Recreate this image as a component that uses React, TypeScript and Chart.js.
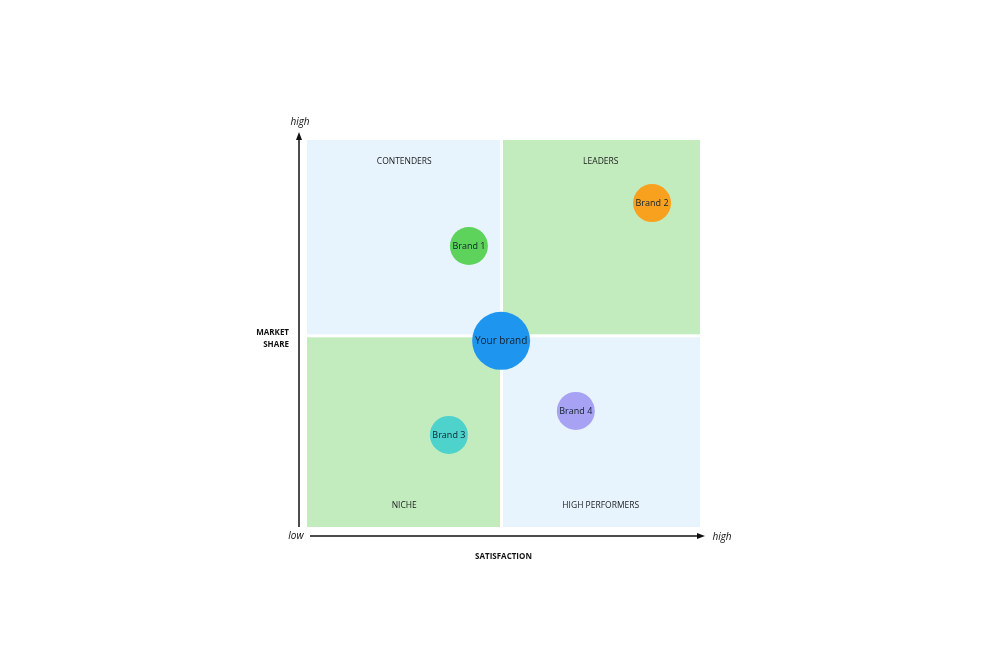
import React, { useEffect, useRef } from "react";
import { Chart, registerables } from "chart.js";

Chart.register(...registerables);

const brandNames = ["Your brand", "Brand 1", "Brand 2", "Brand 3", "Brand 4"];
const satisfaction = [49.4, 41.2, 87.8, 36.1, 68.4];
const marketShare = [48.1, 72.6, 83.7, 23.8, 30.0];
const bubbleRadius = [29, 19, 19, 19, 19];
const bubbleColors = ["#1E96F0", "#5ED35B", "#F8A11F", "#4ED2CC", "#A7A2F4"];
const quadrantNames = ["CONTENDERS", "LEADERS", "NICHE", "HIGH PERFORMERS"];
const axisTitles = ["SATISFACTION", "MARKET SHARE"];
const axisEnds = ["low", "high"];
const splitValues = [49.5, 49.4];

const FONT = "'Open Sans', sans-serif";

const quadrantPlugin = {
  id: "quadrants",
  beforeDatasetsDraw(chart: any) {
    const { ctx, scales } = chart;
    const xs = scales.x;
    const ys = scales.y;
    const x0 = xs.getPixelForValue(0);
    const xm = xs.getPixelForValue(splitValues[0]);
    const x1 = xs.getPixelForValue(100);
    const y0 = ys.getPixelForValue(0);
    const ym = ys.getPixelForValue(splitValues[1]);
    const y1 = ys.getPixelForValue(100);
    const g = 1.5;
    const blue = "#E7F3FD";
    const green = "#C3ECBE";
    ctx.save();
    ctx.fillStyle = blue;
    ctx.fillRect(x0, y1, xm - g - x0, ym - g - y1);
    ctx.fillStyle = green;
    ctx.fillRect(xm + g, y1, x1 - xm - g, ym - g - y1);
    ctx.fillStyle = green;
    ctx.fillRect(x0, ym + g, xm - g - x0, y0 - ym - g);
    ctx.fillStyle = blue;
    ctx.fillRect(xm + g, ym + g, x1 - xm - g, y0 - ym - g);

    ctx.fillStyle = "#222";
    ctx.font = `8.5px ${FONT}`;
    ctx.textAlign = "center";
    ctx.textBaseline = "middle";
    const lx = (x0 + xm) / 2;
    const rx = (xm + x1) / 2;
    ctx.fillText(quadrantNames[0], lx, y1 + 22);
    ctx.fillText(quadrantNames[1], rx, y1 + 22);
    ctx.fillText(quadrantNames[2], lx, y0 - 21);
    ctx.fillText(quadrantNames[3], rx, y0 - 21);

    // axes arrows
    ctx.strokeStyle = "#111";
    ctx.fillStyle = "#111";
    ctx.lineWidth = 1.5;
    const ax = x0 - 8;
    const ay = y0 + 9;
    ctx.beginPath();
    ctx.moveTo(ax, y0);
    ctx.lineTo(ax, y1 - 2);
    ctx.stroke();
    ctx.beginPath();
    ctx.moveTo(ax, y1 - 8);
    ctx.lineTo(ax - 3, y1);
    ctx.lineTo(ax + 3, y1);
    ctx.closePath();
    ctx.fill();

    ctx.beginPath();
    ctx.moveTo(x0 + 3, ay);
    ctx.lineTo(x1 - 2, ay);
    ctx.stroke();
    ctx.beginPath();
    ctx.moveTo(x1 + 5, ay);
    ctx.lineTo(x1 - 3, ay - 3);
    ctx.lineTo(x1 - 3, ay + 3);
    ctx.closePath();
    ctx.fill();

    ctx.font = `italic 10px ${FONT}`;
    ctx.textAlign = "center";
    ctx.fillText(axisEnds[1], ax + 1, y1 - 18);
    ctx.fillText(axisEnds[0], ax - 3, ay);
    ctx.fillText(axisEnds[1], x1 + 22, ay + 1);

    ctx.font = `bold 8px ${FONT}`;
    ctx.fillText(axisTitles[0], (x0 + x1) / 2, ay + 21);
    ctx.textAlign = "right";
    const [w1, w2] = axisTitles[1].split(" ");
    ctx.fillText(w1, ax - 10, ym - 3);
    ctx.fillText(w2, ax - 10, ym + 9);
    ctx.restore();
  },
  afterDatasetsDraw(chart: any) {
    const { ctx } = chart;
    const meta = chart.getDatasetMeta(0);
    ctx.save();
    ctx.fillStyle = "#10202e";
    ctx.textAlign = "center";
    ctx.textBaseline = "middle";
    meta.data.forEach((el: any, i: number) => {
      ctx.font = `${i === 0 ? 10 : 9}px ${FONT}`;
      ctx.fillText(brandNames[i], el.x, el.y + 0.5);
    });
    ctx.restore();
  },
};

export default function App() {
  const ref = useRef<HTMLCanvasElement>(null);
  useEffect(() => {
    if (!ref.current) return;
    const chart = new Chart(ref.current, {
      type: "bubble",
      data: {
        datasets: [
          {
            data: brandNames.map((_, i) => ({
              x: satisfaction[i],
              y: marketShare[i],
              r: bubbleRadius[i],
            })),
            backgroundColor: bubbleColors,
            borderWidth: 0,
            hoverBorderWidth: 0,
          },
        ],
      },
      options: {
        responsive: false,
        animation: false,
        layout: { padding: { left: 307, right: 300, top: 140, bottom: 140 } },
        scales: {
          x: { type: "linear", min: 0, max: 100, display: false },
          y: { type: "linear", min: 0, max: 100, display: false },
        },
        plugins: {
          legend: { display: false },
          tooltip: { enabled: false },
        },
      },
      plugins: [quadrantPlugin],
    });
    return () => chart.destroy();
  }, []);
  return (
    <div style={{ position: "absolute", left: 0, top: 0, width: 1000, height: 667, background: "#fff" }}>
      <canvas ref={ref} width={1000} height={667} style={{ display: "block" }} />
    </div>
  );
}
